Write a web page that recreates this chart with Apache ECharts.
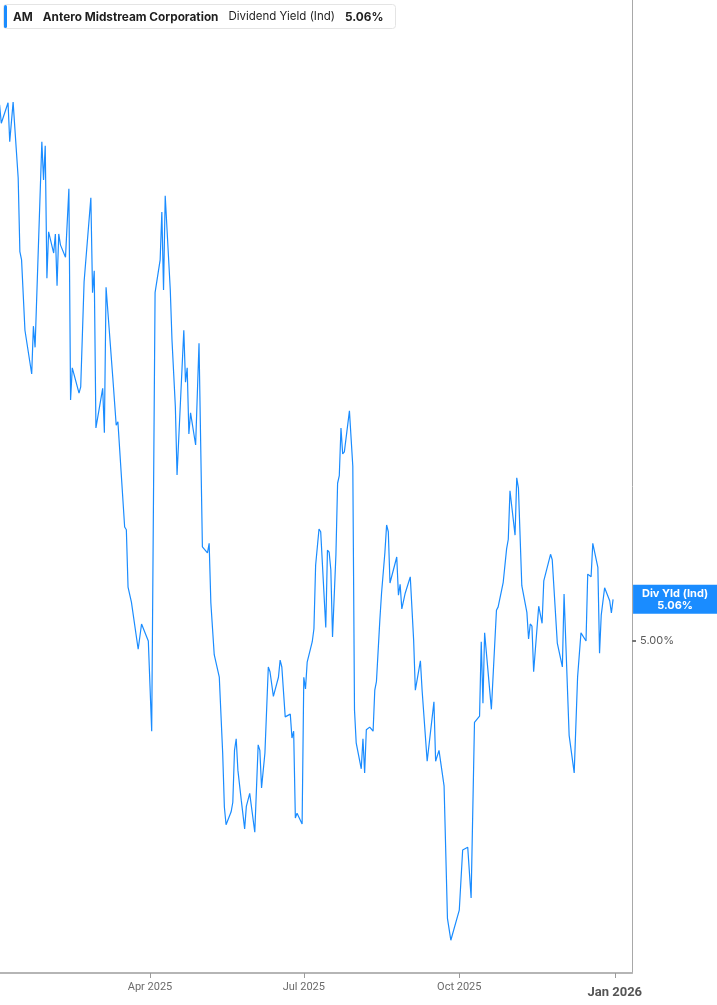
<!DOCTYPE html>
<html><head><meta charset="utf-8">
<script src="https://cdn.jsdelivr.net/npm/echarts@6/dist/echarts.min.js"></script>
<style>html,body{margin:0;padding:0;background:#fff}#c{width:717px;height:1005px}</style>
</head><body><div id="c"></div>
<script>
const ticker = 'AM';
const company = 'Antero Midstream Corporation';
const metric = 'Dividend Yield (Ind)';
const shortMetric = 'Div Yld (Ind)';

const dates = [
'2025-01-02','2025-01-03','2025-01-07','2025-01-08','2025-01-10','2025-01-13','2025-01-14','2025-01-15','2025-01-17','2025-01-21',
'2025-01-22','2025-01-23','2025-01-27','2025-01-28','2025-01-29','2025-01-30','2025-01-31','2025-02-03','2025-02-04','2025-02-05',
'2025-02-06','2025-02-07','2025-02-10','2025-02-12','2025-02-13','2025-02-14','2025-02-18','2025-02-19','2025-02-21','2025-02-25',
'2025-02-26','2025-02-27','2025-02-28','2025-03-04','2025-03-05','2025-03-06','2025-03-10','2025-03-12','2025-03-13','2025-03-17',
'2025-03-18','2025-03-19','2025-03-21','2025-03-25','2025-03-27','2025-03-31','2025-04-02','2025-04-04','2025-04-07','2025-04-08',
'2025-04-09','2025-04-10','2025-04-13','2025-04-14','2025-04-16','2025-04-17','2025-04-21','2025-04-22','2025-04-23','2025-04-24',
'2025-04-25','2025-04-28','2025-04-30','2025-05-02','2025-05-05','2025-05-06','2025-05-07','2025-05-08','2025-05-09','2025-05-12',
'2025-05-14','2025-05-15','2025-05-16','2025-05-19','2025-05-20','2025-05-21','2025-05-22','2025-05-23','2025-05-25','2025-05-27',
'2025-05-28','2025-05-29','2025-05-30','2025-06-02','2025-06-04','2025-06-05','2025-06-06','2025-06-08','2025-06-10','2025-06-11',
'2025-06-13','2025-06-16','2025-06-17','2025-06-18','2025-06-20','2025-06-23','2025-06-24','2025-06-25','2025-06-26','2025-06-27',
'2025-06-30','2025-07-01','2025-07-02','2025-07-03','2025-07-06','2025-07-07','2025-07-08','2025-07-10','2025-07-11','2025-07-14',
'2025-07-15','2025-07-16','2025-07-17','2025-07-18','2025-07-20','2025-07-21','2025-07-22','2025-07-23','2025-07-24','2025-07-25',
'2025-07-28','2025-07-30','2025-07-31','2025-08-01','2025-08-04','2025-08-05','2025-08-06','2025-08-07','2025-08-09','2025-08-11',
'2025-08-12','2025-08-13','2025-08-14','2025-08-15','2025-08-16','2025-08-18','2025-08-19','2025-08-20','2025-08-21','2025-08-22',
'2025-08-25','2025-08-26','2025-08-27','2025-08-28','2025-08-30','2025-09-02','2025-09-04','2025-09-05','2025-09-08','2025-09-09',
'2025-09-12','2025-09-16','2025-09-17','2025-09-19','2025-09-22','2025-09-24','2025-09-26','2025-10-01','2025-10-03','2025-10-06',
'2025-10-08','2025-10-10','2025-10-13','2025-10-14','2025-10-15','2025-10-16','2025-10-20','2025-10-23','2025-10-24','2025-10-27',
'2025-10-29','2025-10-30','2025-10-31','2025-11-03','2025-11-04','2025-11-05','2025-11-06','2025-11-07','2025-11-10','2025-11-11',
'2025-11-12','2025-11-13','2025-11-14','2025-11-17','2025-11-19','2025-11-20','2025-11-21','2025-11-24','2025-11-25','2025-11-28',
'2025-12-01','2025-12-02','2025-12-05','2025-12-08','2025-12-10','2025-12-12','2025-12-15','2025-12-16','2025-12-18','2025-12-19',
'2025-12-22','2025-12-23','2025-12-24','2025-12-26','2025-12-29','2025-12-30','2025-12-31'
];

const divYield = [
5.785,5.758,5.788,5.731,5.789,5.678,5.570,5.558,5.455,5.391,
5.461,5.430,5.731,5.675,5.725,5.531,5.599,5.568,5.596,5.520,
5.596,5.580,5.562,5.662,5.353,5.400,5.363,5.372,5.526,5.649,
5.510,5.542,5.312,5.370,5.305,5.518,5.385,5.316,5.321,5.167,
5.163,5.079,5.057,4.988,5.025,5.000,4.868,5.510,5.558,5.628,
5.514,5.652,5.514,5.441,5.343,5.243,5.455,5.379,5.400,5.303,
5.334,5.287,5.436,5.138,5.129,5.143,5.056,5.056,4.980,4.947,
4.836,4.757,4.731,4.750,4.764,4.840,4.857,4.811,4.767,4.725,
4.758,4.757,4.777,4.720,4.848,4.840,4.785,4.836,4.962,4.955,
4.919,4.947,4.972,4.962,4.889,4.893,4.858,4.868,4.741,4.748,
4.732,4.947,4.930,4.969,4.999,5.018,5.111,5.164,5.160,5.020,
5.133,5.130,5.104,5.006,5.126,5.231,5.242,5.312,5.274,5.277,
5.337,5.256,4.899,4.851,4.813,4.857,4.807,4.870,4.874,4.868,
4.928,4.941,4.943,5.031,5.070,5.130,5.170,5.160,5.085,5.086,
5.123,5.067,5.083,5.047,5.070,5.094,5.001,4.928,4.971,4.928,
4.824,4.911,4.824,4.840,4.788,4.594,4.562,4.606,4.694,4.698,
4.624,4.881,4.890,4.999,4.909,5.012,4.900,5.045,5.050,5.086,
5.135,5.149,5.220,5.155,5.239,5.224,5.224,5.081,5.042,5.003,
5.025,5.022,4.955,5.051,5.026,5.088,5.088,5.127,5.119,4.997,
4.962,5.069,4.862,4.807,4.947,5.012,5.000,5.098,5.094,5.143,
5.108,4.982,5.038,5.078,5.059,5.041,5.061
];

const tickDates = ['2025-04-01','2025-07-01','2025-10-01','2026-01-01'];
const tickLabels = ['Apr 2025','Jul 2025','Oct 2025','Jan 2026'];
const yTicks = [5.00];

const P = s => echarts.number.parseDate(s).getTime();
const DAY = 86400000;
const base = P('2025-01-01');
const tickTimes = tickDates.map(P);
const xMin = base + 1.24 * DAY;
const xMax = base + 375.2 * DAY;
const lastVal = divYield[divYield.length - 1];
const BLUE = '#1a8cff';
const axisFont = "'Liberation Sans Narrow', 'Roboto', sans-serif";

const chart = echarts.init(document.getElementById('c'), null, {renderer: 'canvas'});
chart.setOption({
  animation: false,
  backgroundColor: '#fff',
  grid: {left: 0, right: 85, top: 0, bottom: 32},
  title: {
    left: 3, top: 3,
    padding: [7, 12, 6, 10],
    backgroundColor: '#fff',
    borderColor: '#e4e4e4', borderWidth: 1, borderRadius: 3,
    text: '{a|' + ticker + '}{b|' + company + '}{c|' + metric + '}{d|' + lastVal.toFixed(2) + '%}',
    textStyle: {
      fontFamily: 'Inter, sans-serif', fontSize: 12, color: '#1f1f1f',
      rich: {
        a: {fontFamily: 'Inter', fontSize: 11.8, fontWeight: 'bold', color: '#1f1f1f', lineHeight: 14, padding: [0, 10, 0, 0]},
        b: {fontFamily: 'Inter', fontSize: 11.8, fontWeight: 'bold', color: '#1f1f1f', lineHeight: 14, padding: [0, 10, 0, 0]},
        c: {fontFamily: 'Inter', fontSize: 11.5, fontWeight: 'normal', color: '#1f1f1f', lineHeight: 14, padding: [0, 10, 0, 0]},
        d: {fontFamily: 'Inter', fontSize: 11.8, fontWeight: 'bold', color: '#1f1f1f', lineHeight: 14}
      }
    }
  },
  graphic: [{
    type: 'rect', left: 4, top: 5, z: 100,
    shape: {width: 3, height: 23, r: 1.5},
    style: {fill: BLUE}
  }],
  xAxis: [{
    type: 'time',
    min: xMin, max: xMax,
    axisLine: {lineStyle: {color: '#b5b5b5', width: 2}},
    axisTick: {show: false},
    axisLabel: {show: false},
    splitLine: {show: false}
  }, {
    type: 'value',
    position: 'bottom',
    min: xMin, max: xMax,
    axisLine: {show: false},
    axisTick: {show: true, customValues: tickTimes, length: 5, lineStyle: {color: '#9a9a9a', width: 1}},
    axisLabel: {
      customValues: tickTimes,
      formatter: function (v) {
        const i = tickTimes.indexOf(v);
        const t = i >= 0 ? tickLabels[i] : '';
        return i === tickLabels.length - 1 ? '{y|' + t + '}' : t;
      },
      color: '#6b6b6b', fontSize: 11, fontFamily: axisFont, margin: 9,
      rich: {y: {fontSize: 13, fontWeight: 'bold', color: '#555', fontFamily: axisFont, padding: [4, 0, 0, 0]}}
    },
    splitLine: {show: false}
  }],
  yAxis: {
    type: 'value',
    position: 'right',
    min: 4.514,
    max: 5.9385,
    axisLine: {show: true, lineStyle: {color: '#a8a8a8', width: 1}},
    axisTick: {show: true, customValues: yTicks, length: 4, lineStyle: {color: '#777', width: 2}},
    axisLabel: {
      customValues: yTicks,
      formatter: v => v.toFixed(2) + '%',
      color: '#5a5a5a', fontSize: 11, fontFamily: "'Inter', sans-serif", margin: 8
    },
    splitLine: {show: false}
  },
  series: [{
    type: 'line',
    xAxisIndex: 0,
    name: shortMetric,
    data: dates.map((d, i) => [d, divYield[i]]),
    showSymbol: false,
    lineStyle: {color: BLUE, width: 1.2},
    itemStyle: {color: BLUE},
    endLabel: {
      show: true,
      distance: 20,
      formatter: p => '{t|' + shortMetric + '}\n{t|' + p.value[1].toFixed(2) + '%}',
      backgroundColor: BLUE,
      padding: [3, 0, 2, 0],
      rich: {
        t: {width: 84, align: 'center', color: '#fff', fontSize: 11, fontWeight: 'bold', lineHeight: 12, fontFamily: 'Inter, sans-serif'}
      }
    }
  }]
});
</script>
</body></html>
